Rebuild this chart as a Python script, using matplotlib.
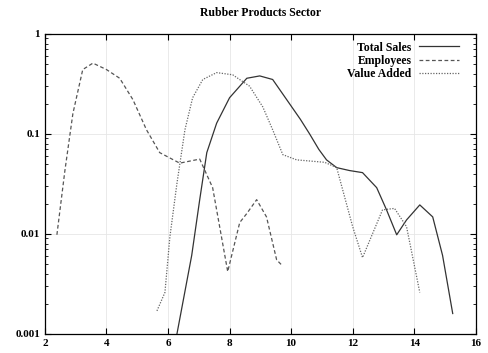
import numpy as np
import matplotlib
matplotlib.use("Agg")
import matplotlib.pyplot as plt
from matplotlib.ticker import FixedLocator, LogLocator, NullFormatter

# -----------------------------
# Data
# -----------------------------
sales_x = [6.29, 6.77, 7.03, 7.26, 7.58, 8.0, 8.56, 8.98, 9.4, 9.95, 10.3, 10.6, 10.9, 11.15,
           11.48, 11.9, 12.32, 12.78, 13.1, 13.43, 13.75, 14.18, 14.6, 14.92, 15.25]
sales_y = [0.001, 0.0061, 0.022, 0.065, 0.128, 0.23, 0.36, 0.38, 0.35, 0.2, 0.14, 0.1, 0.07, 0.055,
           0.046, 0.043, 0.041, 0.029, 0.0174, 0.0098, 0.0138, 0.0195, 0.0148, 0.0061, 0.0016]

emp_x = [2.39, 2.65, 2.91, 3.23, 3.56, 4.0, 4.43, 4.86, 5.3, 5.73, 6.38, 7.03, 7.45,
         7.94, 8.33, 8.56, 8.88, 9.2, 9.53, 9.69]
emp_y = [0.0098, 0.043, 0.16, 0.44, 0.51, 0.44, 0.36, 0.22, 0.11, 0.065, 0.051, 0.056, 0.029,
         0.0042, 0.013, 0.016, 0.022, 0.0148, 0.0055, 0.0049]

va_x = [5.64, 5.9, 6.06, 6.29, 6.55, 6.8, 7.13, 7.58, 8.1, 8.65, 9.08, 9.4, 9.73, 10.18,
        11.09, 11.48, 12.0, 12.32, 12.97, 13.36, 13.75, 14.18]
va_y = [0.0017, 0.0026, 0.0093, 0.032, 0.11, 0.23, 0.35, 0.41, 0.39, 0.3, 0.186, 0.11, 0.062, 0.055,
        0.052, 0.046, 0.0118, 0.0058, 0.0174, 0.018, 0.0118, 0.0026]

x_ticks = [2, 4, 6, 8, 10, 12, 14, 16]
y_ticks = [0.001, 0.01, 0.1, 1]
y_labels = ["0.001", "0.01", "0.1", "1"]

# -----------------------------
# Plot
# -----------------------------
plt.rcParams['font.family'] = ['Liberation Serif', 'DejaVu Serif']
plt.rcParams['font.weight'] = 'bold'

fig = plt.figure(figsize=(4.88, 3.53), dpi=100)
ax = fig.add_axes([0.092, 0.054, 0.883, 0.85])

ax.plot(sales_x, sales_y, color='#333333', lw=0.9, label='Total Sales')
ax.plot(emp_x, emp_y, color='#555555', lw=0.9, ls=(0, (3, 2)), label='Employees')
ax.plot(va_x, va_y, color='#666666', lw=0.9, ls=(0, (1, 1.2)), label='Value Added')

ax.set_yscale('log')
ax.set_xlim(2, 16)
ax.set_ylim(0.001, 1)
ax.set_xticks(x_ticks)
ax.set_xticklabels([str(t) for t in x_ticks])
ax.yaxis.set_major_locator(FixedLocator(y_ticks))
ax.set_yticklabels(y_labels)
ax.yaxis.set_minor_locator(LogLocator(base=10, subs=np.arange(2, 10)))
ax.yaxis.set_minor_formatter(NullFormatter())

ax.tick_params(which='both', direction='in', top=True, right=True, labelsize=8)
ax.tick_params(which='major', length=4)
ax.tick_params(which='minor', length=2)
ax.grid(True, which='major', color='#e6e6e6', lw=0.6)
for s in ax.spines.values():
    s.set_linewidth(0.9)

ax.set_title('Rubber Products Sector', fontsize=8.5, fontweight='bold', pad=13)

ax.legend(loc='upper right', bbox_to_anchor=(0.985, 1.01), frameon=False, markerfirst=False,
          fontsize=8.5, handlelength=3.4, labelspacing=0.12, handletextpad=0.6)
for t in ax.get_legend().get_texts():
    t.set_ha('right')

fig.savefig("out.png", dpi=100)
